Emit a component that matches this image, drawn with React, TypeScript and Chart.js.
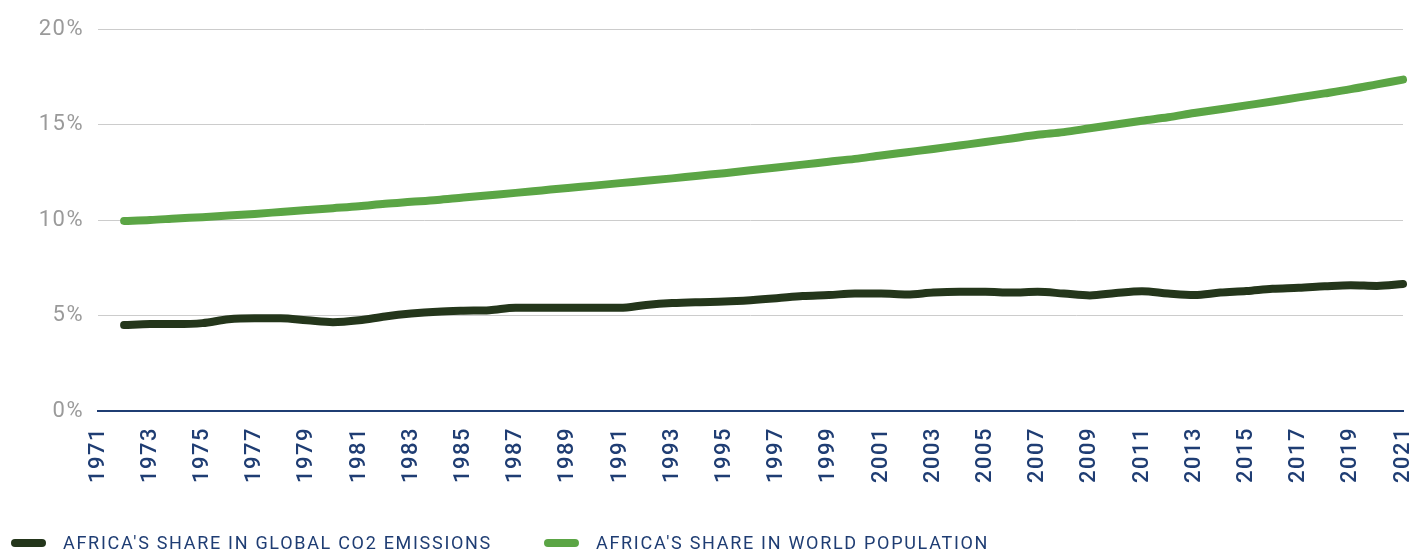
import React, { useEffect, useRef } from 'react';
import { Chart, registerables } from 'chart.js';

Chart.register(...registerables);

const years: string[] = [
  '1971', '1972', '1973', '1974', '1975', '1976', '1977', '1978', '1979', '1980',
  '1981', '1982', '1983', '1984', '1985', '1986', '1987', '1988', '1989', '1990',
  '1991', '1992', '1993', '1994', '1995', '1996', '1997', '1998', '1999', '2000',
  '2001', '2002', '2003', '2004', '2005', '2006', '2007', '2008', '2009', '2010',
  '2011', '2012', '2013', '2014', '2015', '2016', '2017', '2018', '2019', '2020',
  '2021',
];

const co2Share: (number | null)[] = [
  null, 4.5, 4.55, 4.55, 4.6, 4.8, 4.85, 4.85, 4.75, 4.65,
  4.75, 4.95, 5.1, 5.2, 5.25, 5.28, 5.4, 5.4, 5.4, 5.4,
  5.4, 5.55, 5.65, 5.7, 5.73, 5.8, 5.9, 6.02, 6.07, 6.15,
  6.15, 6.1, 6.2, 6.24, 6.24, 6.2, 6.24, 6.15, 6.05, 6.18,
  6.27, 6.15, 6.07, 6.2, 6.28, 6.4, 6.45, 6.53, 6.59, 6.55,
  6.65,
];

const populationShare: (number | null)[] = [
  null, 9.95, 10.0, 10.08, 10.15, 10.23, 10.32, 10.42, 10.52, 10.62,
  10.72, 10.85, 10.95, 11.05, 11.18, 11.3, 11.42, 11.55, 11.68, 11.8,
  11.93, 12.05, 12.18, 12.32, 12.45, 12.6, 12.75, 12.9, 13.05, 13.2,
  13.38, 13.55, 13.72, 13.9, 14.08, 14.27, 14.46, 14.6, 14.8, 15.0,
  15.2, 15.38, 15.6, 15.8, 16.0, 16.2, 16.42, 16.63, 16.85, 17.1,
  17.35,
];

const seriesLabels = [
  "AFRICA'S SHARE IN GLOBAL CO2 EMISSIONS",
  "AFRICA'S SHARE IN WORLD POPULATION",
];

const yTickValues = [0, 5, 10, 15, 20];

const DARK_GREEN = '#24361b';
const LIGHT_GREEN = '#5ba545';
const NAVY = '#1f3d73';

const spacingPlugin = {
  id: 'letterSpacing',
  beforeUpdate(chart: any) {
    chart.ctx.letterSpacing = '1.5px';
  },
  beforeDraw(chart: any) {
    chart.ctx.letterSpacing = '1.5px';
  },
};

const legendPlugin = {
  id: 'customLegend',
  afterDraw(chart: any) {
    const ctx = chart.ctx as CanvasRenderingContext2D;
    ctx.save();
    ctx.font = '400 18px Roboto';
    (ctx as any).letterSpacing = '1.7px';
    ctx.textBaseline = 'middle';
    ctx.textAlign = 'left';
    let x = 11;
    const y = 543;
    chart.data.datasets.forEach((ds: any) => {
      ctx.strokeStyle = ds.borderColor;
      ctx.lineWidth = 8;
      ctx.lineCap = 'round';
      ctx.beginPath();
      ctx.moveTo(x + 4, y);
      ctx.lineTo(x + 31, y);
      ctx.stroke();
      ctx.fillStyle = NAVY;
      const tx = x + 52;
      ctx.fillText(ds.label, tx, y + 1);
      x = tx + ctx.measureText(ds.label).width + 52;
    });
    ctx.restore();
  },
};

export default function App() {
  const canvasRef = useRef<HTMLCanvasElement | null>(null);

  useEffect(() => {
    if (!canvasRef.current) return;
    const chart = new Chart(canvasRef.current, {
      type: 'line',
      data: {
        labels: years,
        datasets: [
          {
            label: seriesLabels[0],
            data: co2Share,
            borderColor: DARK_GREEN,
            backgroundColor: DARK_GREEN,
            borderWidth: 8,
            borderCapStyle: 'round',
            borderJoinStyle: 'round',
            cubicInterpolationMode: 'monotone',
            pointRadius: 0,
            pointHoverRadius: 0,
            fill: false,
          },
          {
            label: seriesLabels[1],
            data: populationShare,
            borderColor: LIGHT_GREEN,
            backgroundColor: LIGHT_GREEN,
            borderWidth: 8,
            borderCapStyle: 'round',
            borderJoinStyle: 'round',
            cubicInterpolationMode: 'monotone',
            pointRadius: 0,
            pointHoverRadius: 0,
            fill: false,
          },
        ],
      },
      options: {
        animation: false,
        responsive: true,
        maintainAspectRatio: false,
        layout: { padding: { top: 29, right: 12, left: 0, bottom: 0 } },
        plugins: {
          legend: { display: false },
          tooltip: { enabled: false },
        },
        scales: {
          x: {
            offset: false,
            grid: { display: false, drawTicks: false },
            border: { display: true, color: NAVY, width: 2 },
            ticks: {
              autoSkip: false,
              minRotation: 90,
              maxRotation: 90,
              padding: 16,
              color: NAVY,
              font: { family: 'Roboto', size: 22, weight: '500' },
              callback: (_v: any, i: number) => (i % 2 === 0 ? years[i] : ''),
            },
            afterFit: (scale: any) => {
              scale.height = 141;
              scale.paddingLeft = 0;
              scale.paddingRight = 0;
            },
          },
          y: {
            min: 0,
            max: 20,
            afterBuildTicks: (scale: any) => {
              scale.ticks = yTickValues.map((v) => ({ value: v }));
            },
            grid: { color: '#cccccc', lineWidth: 1, drawTicks: false },
            border: { display: false },
            ticks: {
              padding: 14,
              color: '#9a9a9a',
              font: { family: 'Roboto', size: 22, weight: '400' },
              callback: (v: any) => v + '%',
            },
            afterFit: (scale: any) => {
              scale.width = 98;
            },
          },
        },
      },
      plugins: [spacingPlugin, legendPlugin],
    } as any);
    return () => chart.destroy();
  }, []);

  return (
    <div style={{ position: 'absolute', left: 0, top: 0, width: 1415, height: 552, background: '#fff' }}>
      <canvas ref={canvasRef} />
    </div>
  );
}
